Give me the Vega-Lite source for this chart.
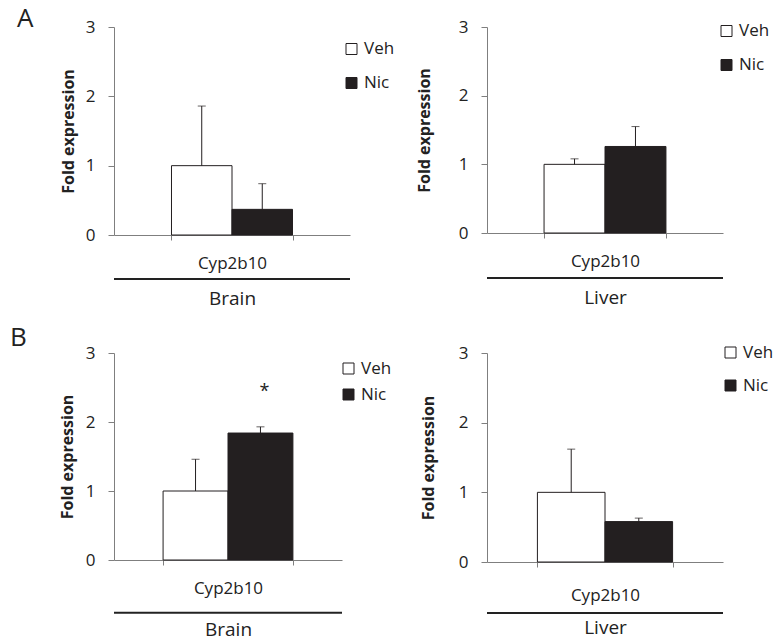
{
  "$schema": "https://vega.github.io/schema/vega-lite/v6.json",
  "autosize": "none",
  "padding": {"left": 114, "top": 27, "right": 659, "bottom": 617},
  "background": "white",
  "columns": 2,
  "spacing": {"column": 137, "row": 118},
  "bounds": "flush",
  "resolve": {"scale": {"color": "independent", "x": "independent", "y": "independent", "xOffset": "independent"}},
  "config": {
    "view": {"stroke": null},
    "font": "Open Sans",
    "axis": {"grid": false, "domainColor": "#7f7f7f", "tickColor": "#7f7f7f", "labelColor": "#222222", "titleColor": "#222222", "labelFont": "Open Sans", "titleFont": "Open Sans"},
    "legend": {"padding": 0, "labelFontSize": 17, "labelColor": "#222222", "labelOffset": 4, "symbolSize": 121, "symbolType": "square", "symbolStrokeColor": "#231f20", "symbolStrokeWidth": 1, "title": null}
  },
  "concat": [
    {
      "width": 236, "height": 208,
      "title": {"text": "A", "anchor": "start", "frame": "group", "fontSize": 26, "fontWeight": "normal", "color": "#222222", "dx": -97, "dy": 33, "offset": -2, "baseline": "alphabetic"},
      "data": {"values": [
        {"gene": "Cyp2b10", "tissue": "Brain", "group": "Veh", "value": 1.0, "upper": 1.86},
        {"gene": "Cyp2b10", "tissue": "Brain", "group": "Nic", "value": 0.37, "upper": 0.74}
      ]},
      "layer": [
        {"mark": {"type": "bar", "stroke": "#231f20", "strokeWidth": 1},
         "encoding": {
           "x": {"field": "gene", "type": "nominal", "scale": {"paddingInner": 0, "paddingOuter": 0.475},
                 "axis": {"title": "Brain", "labelAngle": 0, "tickBand": "extent", "tickSize": 5, "labelFontSize": 17, "labelPadding": 15, "titleFontSize": 19, "titleFontWeight": "normal", "titlePadding": 18}},
           "xOffset": {"field": "group", "type": "nominal", "sort": ["Veh", "Nic"], "scale": {"paddingInner": 0, "paddingOuter": 0}},
           "y": {"field": "value", "type": "quantitative", "title": "Fold expression", "scale": {"domain": [0, 3], "nice": false},
                 "axis": {"values": [0, 1, 2, 3], "format": "d", "tickSize": 6, "labelPadding": 13, "labelFontSize": 17, "titleFontSize": 16, "titleFontWeight": "bold", "titlePadding": 9}},
           "color": {"field": "group", "type": "nominal", "sort": ["Veh", "Nic"], "scale": {"domain": ["Veh", "Nic"], "range": ["#ffffff", "#231f20"]},
                     "legend": {"orient": "none", "legendX": 229, "legendY": 13.5, "rowPadding": 16}}
         }},
        {"mark": {"type": "rule", "color": "#231f20", "strokeWidth": 1},
         "encoding": {
           "x": {"field": "gene", "type": "nominal"},
           "xOffset": {"field": "group", "type": "nominal", "sort": ["Veh", "Nic"]},
           "y": {"field": "value", "type": "quantitative", "title": "Fold expression"},
           "y2": {"field": "upper"}
         }},
        {"mark": {"type": "tick", "color": "#231f20", "size": 8, "thickness": 1, "orient": "horizontal"},
         "encoding": {
           "x": {"field": "gene", "type": "nominal"},
           "xOffset": {"field": "group", "type": "nominal", "sort": ["Veh", "Nic"]},
           "y": {"field": "upper", "type": "quantitative", "title": "Fold expression"}
         }},
        {"data": {"values": [{"tissue": "Brain"}]},
         "mark": {"type": "rule", "color": "#222222", "strokeWidth": 2},
         "encoding": {"y": {"datum": -0.635}}}
      ]
    },
    {
      "width": 236, "height": 206,
      "data": {"values": [
        {"gene": "Cyp2b10", "tissue": "Liver", "group": "Veh", "value": 1.0, "upper": 1.08},
        {"gene": "Cyp2b10", "tissue": "Liver", "group": "Nic", "value": 1.26, "upper": 1.55}
      ]},
      "layer": [
        {"mark": {"type": "bar", "stroke": "#231f20", "strokeWidth": 1},
         "encoding": {
           "x": {"field": "gene", "type": "nominal", "scale": {"paddingInner": 0, "paddingOuter": 0.468},
                 "axis": {"title": "Liver", "labelAngle": 0, "tickBand": "extent", "tickSize": 5, "labelFontSize": 17, "labelPadding": 15, "titleFontSize": 19, "titleFontWeight": "normal", "titlePadding": 19}},
           "xOffset": {"field": "group", "type": "nominal", "sort": ["Veh", "Nic"], "scale": {"paddingInner": 0, "paddingOuter": 0}},
           "y": {"field": "value", "type": "quantitative", "title": "Fold expression", "scale": {"domain": [0, 3], "nice": false},
                 "axis": {"values": [0, 1, 2, 3], "format": "d", "tickSize": 6, "labelPadding": 13, "labelFontSize": 17, "titleFontSize": 16, "titleFontWeight": "bold", "titlePadding": 26}},
           "color": {"field": "group", "type": "nominal", "sort": ["Veh", "Nic"], "scale": {"domain": ["Veh", "Nic"], "range": ["#ffffff", "#231f20"]},
                     "legend": {"orient": "none", "legendX": 231, "legendY": -4.5, "rowPadding": 16}}
         }},
        {"mark": {"type": "rule", "color": "#231f20", "strokeWidth": 1},
         "encoding": {
           "x": {"field": "gene", "type": "nominal"},
           "xOffset": {"field": "group", "type": "nominal", "sort": ["Veh", "Nic"]},
           "y": {"field": "value", "type": "quantitative", "title": "Fold expression"},
           "y2": {"field": "upper"}
         }},
        {"mark": {"type": "tick", "color": "#231f20", "size": 8, "thickness": 1, "orient": "horizontal"},
         "encoding": {
           "x": {"field": "gene", "type": "nominal"},
           "xOffset": {"field": "group", "type": "nominal", "sort": ["Veh", "Nic"]},
           "y": {"field": "upper", "type": "quantitative", "title": "Fold expression"}
         }},
        {"data": {"values": [{"tissue": "Liver"}]},
         "mark": {"type": "rule", "color": "#222222", "strokeWidth": 2},
         "encoding": {"y": {"datum": -0.655}}}
      ]
    },
    {
      "width": 228, "height": 207,
      "title": {"text": "B", "anchor": "start", "frame": "group", "fontSize": 26, "fontWeight": "normal", "color": "#222222", "dx": -104, "dy": 26, "offset": -2, "baseline": "alphabetic"},
      "data": {"values": [
        {"gene": "Cyp2b10", "tissue": "Brain", "group": "Veh", "value": 1.0, "upper": 1.46, "sig": ""},
        {"gene": "Cyp2b10", "tissue": "Brain", "group": "Nic", "value": 1.84, "upper": 1.93, "sig": "*"}
      ]},
      "layer": [
        {"mark": {"type": "bar", "stroke": "#231f20", "strokeWidth": 1},
         "encoding": {
           "x": {"field": "gene", "type": "nominal", "scale": {"paddingInner": 0, "paddingOuter": 0.378},
                 "axis": {"title": "Brain", "labelAngle": 0, "tickBand": "extent", "tickSize": 5, "labelFontSize": 17, "labelPadding": 15, "titleFontSize": 19, "titleFontWeight": "normal", "titlePadding": 24}},
           "xOffset": {"field": "group", "type": "nominal", "sort": ["Veh", "Nic"], "scale": {"paddingInner": 0, "paddingOuter": 0}},
           "y": {"field": "value", "type": "quantitative", "title": "Fold expression", "scale": {"domain": [0, 3], "nice": false},
                 "axis": {"values": [0, 1, 2, 3], "format": "d", "tickSize": 6, "labelPadding": 13, "labelFontSize": 17, "titleFontSize": 16, "titleFontWeight": "bold", "titlePadding": 10}},
           "color": {"field": "group", "type": "nominal", "sort": ["Veh", "Nic"], "scale": {"domain": ["Veh", "Nic"], "range": ["#ffffff", "#231f20"]},
                     "legend": {"orient": "none", "legendX": 226, "legendY": 7, "rowPadding": 8}}
         }},
        {"mark": {"type": "rule", "color": "#231f20", "strokeWidth": 1},
         "encoding": {
           "x": {"field": "gene", "type": "nominal"},
           "xOffset": {"field": "group", "type": "nominal", "sort": ["Veh", "Nic"]},
           "y": {"field": "value", "type": "quantitative", "title": "Fold expression"},
           "y2": {"field": "upper"}
         }},
        {"mark": {"type": "tick", "color": "#231f20", "size": 8, "thickness": 1, "orient": "horizontal"},
         "encoding": {
           "x": {"field": "gene", "type": "nominal"},
           "xOffset": {"field": "group", "type": "nominal", "sort": ["Veh", "Nic"]},
           "y": {"field": "upper", "type": "quantitative", "title": "Fold expression"}
         }},
        {"mark": {"type": "text", "color": "#222222", "fontSize": 18, "baseline": "alphabetic", "dy": -30, "dx": 4},
         "encoding": {
           "x": {"field": "gene", "type": "nominal"},
           "xOffset": {"field": "group", "type": "nominal", "sort": ["Veh", "Nic"]},
           "y": {"field": "upper", "type": "quantitative", "title": "Fold expression"},
           "text": {"field": "sig"}
         }},
        {"data": {"values": [{"tissue": "Brain"}]},
         "mark": {"type": "rule", "color": "#222222", "strokeWidth": 2},
         "encoding": {"y": {"datum": -0.764}}}
      ]
    },
    {
      "width": 236, "height": 209,
      "data": {"values": [
        {"gene": "Cyp2b10", "tissue": "Liver", "group": "Veh", "value": 1.0, "upper": 1.62},
        {"gene": "Cyp2b10", "tissue": "Liver", "group": "Nic", "value": 0.58, "upper": 0.63}
      ]},
      "layer": [
        {"mark": {"type": "bar", "stroke": "#231f20", "strokeWidth": 1},
         "encoding": {
           "x": {"field": "gene", "type": "nominal", "scale": {"paddingInner": 0, "paddingOuter": 0.373},
                 "axis": {"title": "Liver", "labelAngle": 0, "tickBand": "extent", "tickSize": 5, "labelFontSize": 17, "labelPadding": 20, "titleFontSize": 19, "titleFontWeight": "normal", "titlePadding": 15}},
           "xOffset": {"field": "group", "type": "nominal", "sort": ["Veh", "Nic"], "scale": {"paddingInner": 0, "paddingOuter": 0}},
           "y": {"field": "value", "type": "quantitative", "title": "Fold expression", "scale": {"domain": [0, 3], "nice": false},
                 "axis": {"values": [0, 1, 2, 3], "format": "d", "tickSize": 6, "labelPadding": 13, "labelFontSize": 17, "titleFontSize": 16, "titleFontWeight": "bold", "titlePadding": 22}},
           "color": {"field": "group", "type": "nominal", "sort": ["Veh", "Nic"], "scale": {"domain": ["Veh", "Nic"], "range": ["#ffffff", "#231f20"]},
                     "legend": {"orient": "none", "legendX": 235, "legendY": -9, "rowPadding": 15}}
         }},
        {"mark": {"type": "rule", "color": "#231f20", "strokeWidth": 1},
         "encoding": {
           "x": {"field": "gene", "type": "nominal"},
           "xOffset": {"field": "group", "type": "nominal", "sort": ["Veh", "Nic"]},
           "y": {"field": "value", "type": "quantitative", "title": "Fold expression"},
           "y2": {"field": "upper"}
         }},
        {"mark": {"type": "tick", "color": "#231f20", "size": 8, "thickness": 1, "orient": "horizontal"},
         "encoding": {
           "x": {"field": "gene", "type": "nominal"},
           "xOffset": {"field": "group", "type": "nominal", "sort": ["Veh", "Nic"]},
           "y": {"field": "upper", "type": "quantitative", "title": "Fold expression"}
         }},
        {"data": {"values": [{"tissue": "Liver"}]},
         "mark": {"type": "rule", "color": "#222222", "strokeWidth": 2},
         "encoding": {"y": {"datum": -0.732}}}
      ]
    }
  ]
}
